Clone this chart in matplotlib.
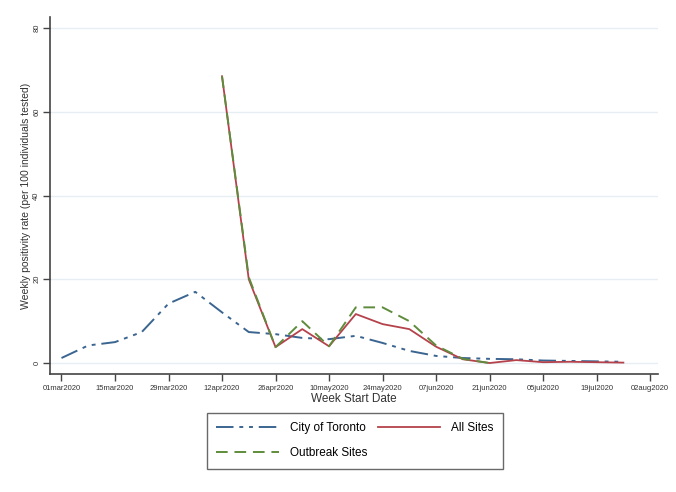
import numpy as np
import matplotlib
matplotlib.use("Agg")
import matplotlib.pyplot as plt
import matplotlib.dates as mdates
from datetime import date, timedelta

plt.rcParams["font.family"] = ["Liberation Sans", "DejaVu Sans"]

# weekly series, week start dates
toronto_start = date(2020, 3, 1)
toronto_rate = [1.2, 4.2, 5.0, 7.4, 14.2, 17.0, 12.1, 7.4, 6.9, 6.0, 5.7, 6.5,
                4.8, 2.9, 1.7, 1.2, 1.0, 0.9, 0.6, 0.5, 0.4, 0.3]

sites_start = date(2020, 4, 12)
all_sites_rate = [68.5, 20.0, 3.8, 8.1, 4.0, 11.7, 9.3, 8.1, 3.9, 0.9, 0.0,
                  0.7, 0.2, 0.3, 0.2, 0.1]
outbreak_rate = [68.5, 20.5, 3.8, 10.0, 4.0, 13.3, 13.3, 10.0, 4.2, 1.0, 0.0]

tick_dates = [date(2020, 3, 1) + timedelta(days=14 * i) for i in range(12)]
y_ticks = [0, 20, 40, 60, 80]


def weeks(start, n):
    return [start + timedelta(days=7 * i) for i in range(n)]


fig = plt.figure(figsize=(6.76, 4.92), dpi=100)
ax = fig.add_axes([0.074, 0.240, 0.899, 0.725])

for y in y_ticks:
    ax.axhline(y, color="#e6eef3", lw=1.0, zorder=0)

ax.plot(weeks(toronto_start, len(toronto_rate)), toronto_rate, color="#3b6591",
        lw=1.4, dashes=(9, 3, 2, 3, 2, 3), label="City of Toronto")
ax.plot(weeks(sites_start, len(all_sites_rate)), all_sites_rate, color="#b5424b",
        lw=1.3, label="All Sites")
ax.plot(weeks(sites_start, len(outbreak_rate)), outbreak_rate, color="#5f8c3c",
        lw=1.4, dashes=(6, 3.5), label="Outbreak Sites")

ax.set_xlim(date(2020, 2, 27), date(2020, 8, 4))
ax.set_ylim(-2.6, 82.6)
ax.set_xticks(tick_dates)
ax.set_xticklabels([d.strftime("%d%b%Y").lower() for d in tick_dates], fontsize=5.5,
                   color="#333333")
ax.set_yticks(y_ticks)
ax.set_yticklabels([str(v) for v in y_ticks], fontsize=5.5, rotation=90,
                   va="center", color="#333333")

for s in ["top", "right"]:
    ax.spines[s].set_visible(False)
for s in ["left", "bottom"]:
    ax.spines[s].set_color("#444444")
    ax.spines[s].set_linewidth(1.2)
ax.tick_params(axis="both", direction="out", length=5, width=1.0, color="#444444")
ax.tick_params(axis="x", pad=3)
ax.tick_params(axis="y", pad=2)

ax.set_xlabel("Week Start Date", fontsize=8.5, color="#333333", labelpad=1)
ax.set_ylabel("Weekly positivity rate (per 100 individuals tested)", fontsize=7.5,
              color="#333333")
ax.yaxis.set_label_coords(-0.031, 0.5)

handles, labels = ax.get_legend_handles_labels()
order = [0, 2, 1]
leg = fig.legend([handles[i] for i in order], [labels[i] for i in order],
                 loc="upper left", bbox_to_anchor=(207 / 676, 1 - 413 / 492),
                 borderaxespad=0, ncol=2, fontsize=8.5, frameon=True, fancybox=False,
                 handlelength=5.3, columnspacing=0.85, borderpad=0.8,
                 labelspacing=1.1, handletextpad=0.95)
leg.get_frame().set_edgecolor("#444444")
leg.get_frame().set_linewidth(1.0)

fig.savefig("out.png", dpi=100)
